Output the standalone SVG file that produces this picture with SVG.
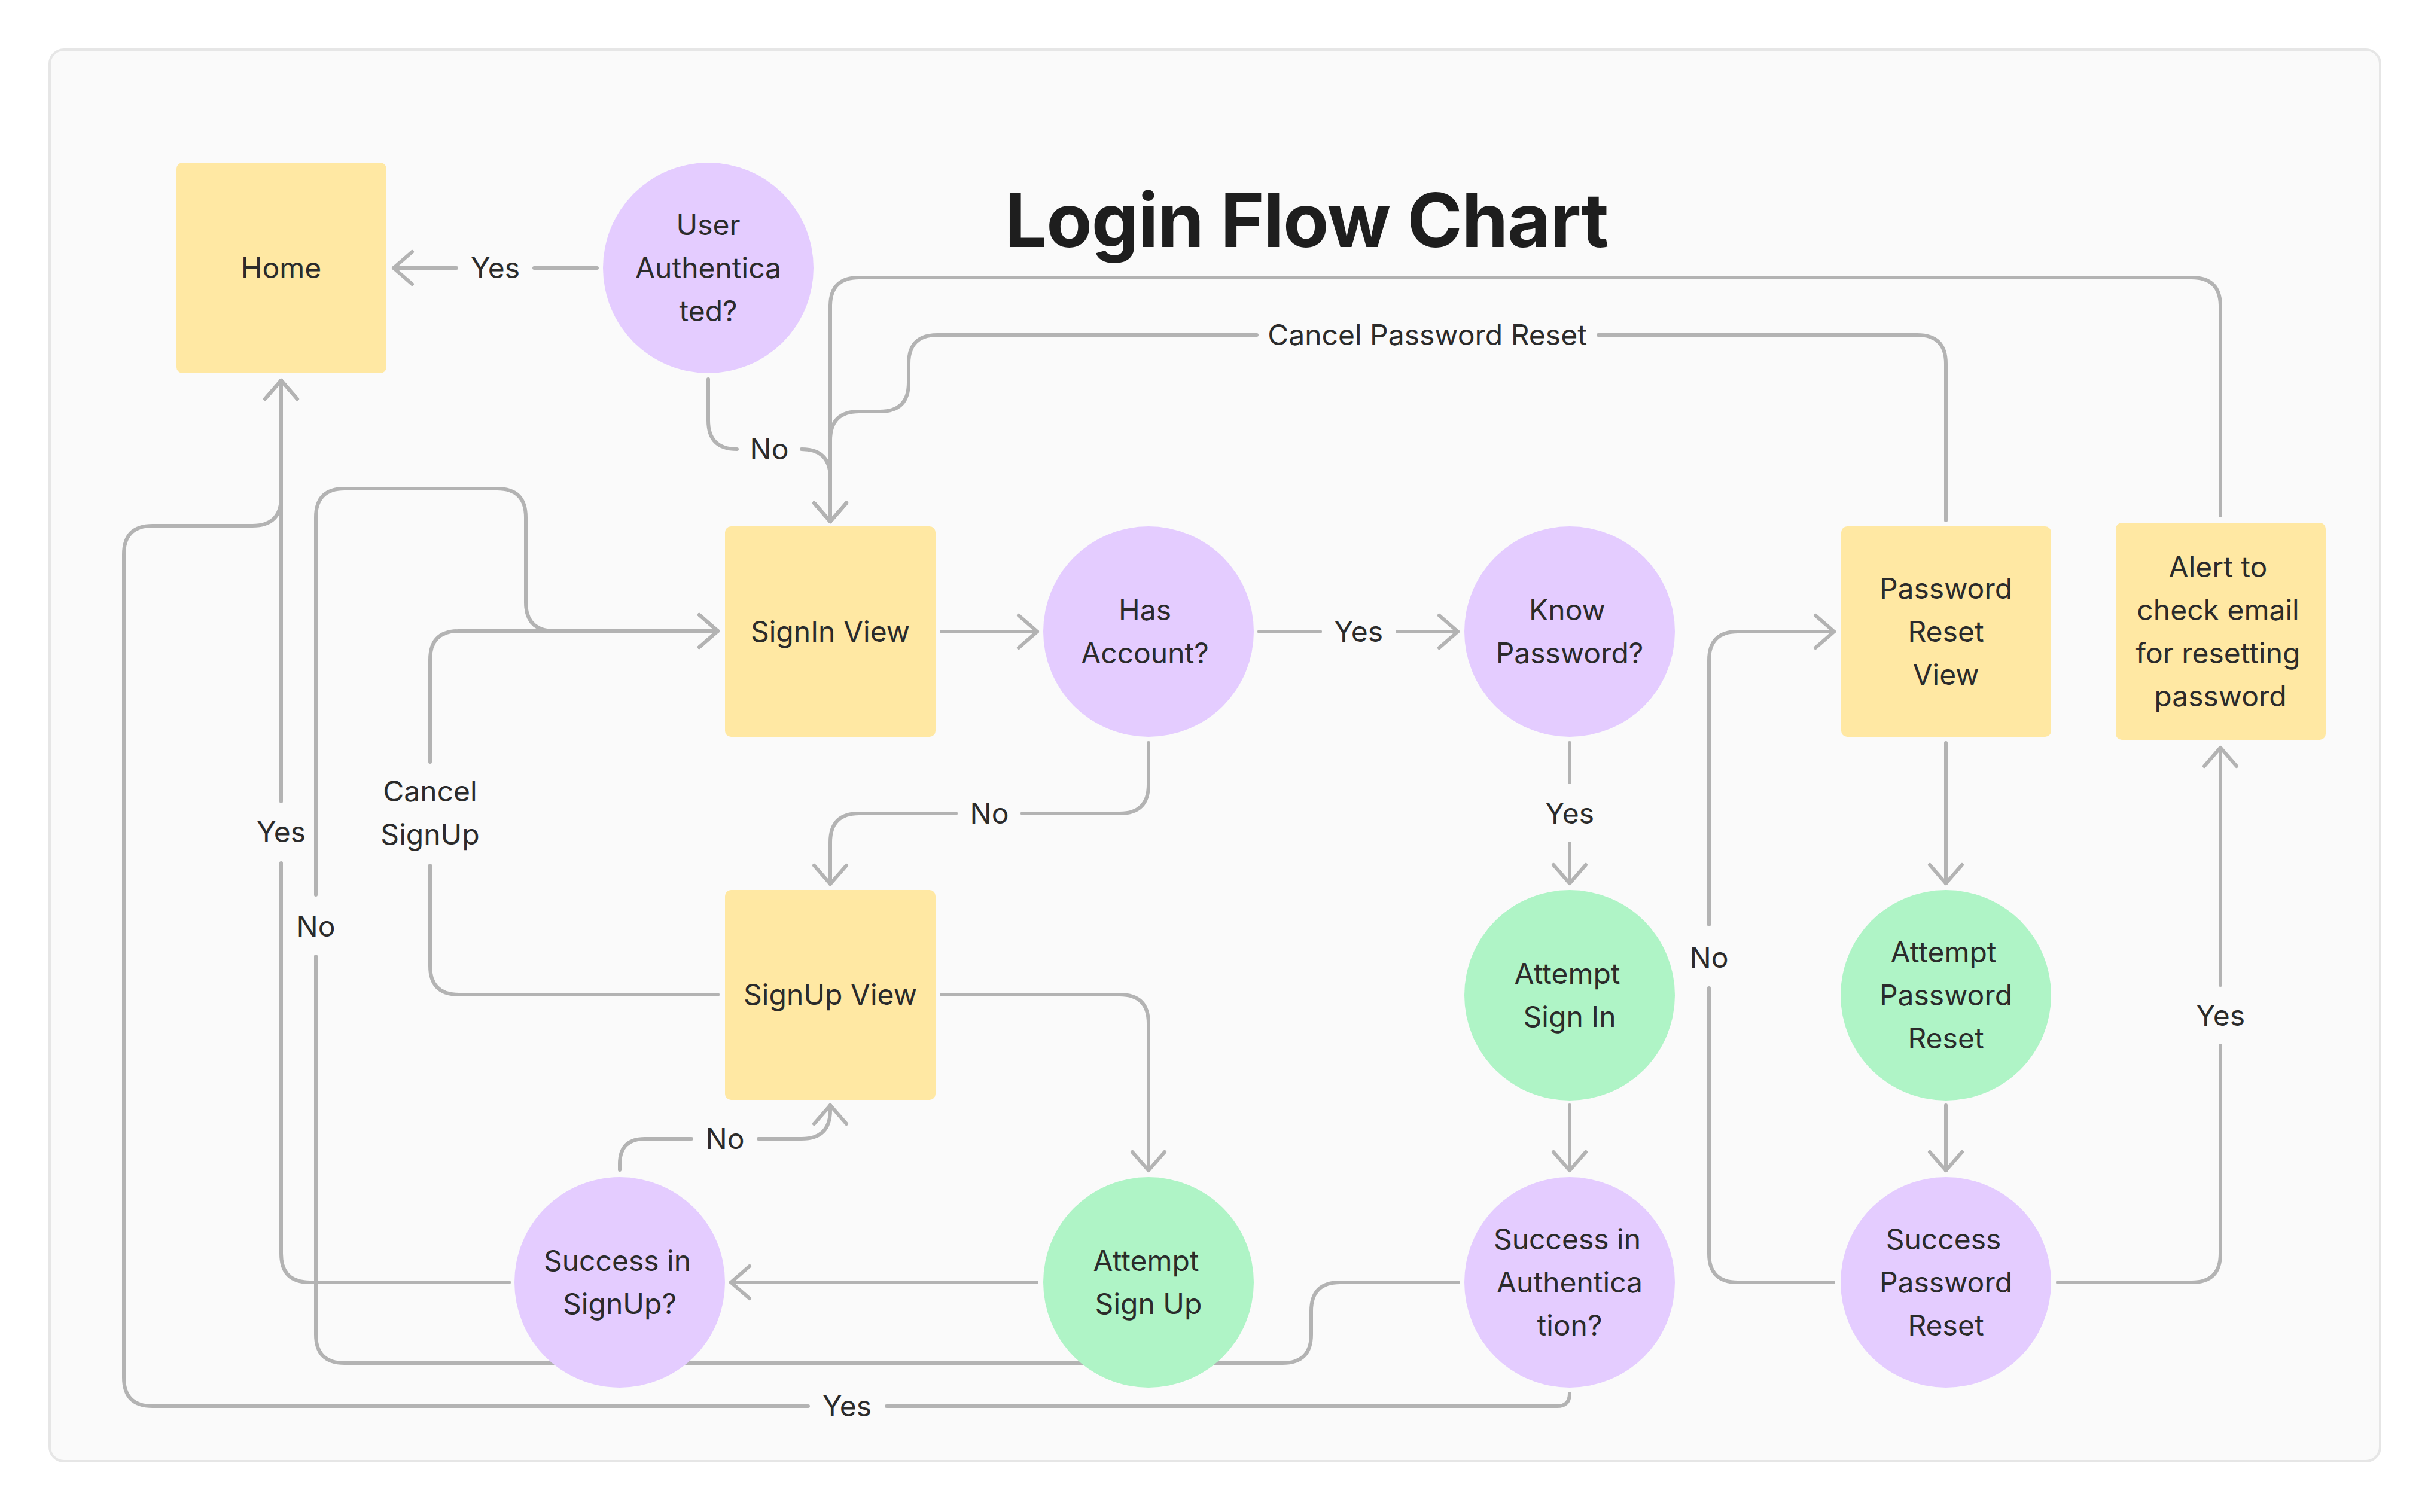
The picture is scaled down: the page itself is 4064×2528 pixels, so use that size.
<svg xmlns="http://www.w3.org/2000/svg" width="4064" height="2528" viewBox="0 0 4064 2528">
<style>
.t{font-family:Inter,"Noto Sans","Liberation Sans",sans-serif;font-size:48px;fill:#2b2b2b;text-anchor:middle}
.title{font-family:Inter,"Noto Sans","Liberation Sans",sans-serif;font-size:125px;letter-spacing:-1.2px;font-weight:700;fill:#1e1e1e;text-anchor:middle}
.c{fill:none;stroke:#b3b3b3;stroke-width:6;stroke-linecap:round;stroke-linejoin:round}
.y{fill:#ffe8a3}.v{fill:#e4ccff}.g{fill:#aff4c6}
</style>
<defs>
<marker id="a" markerUnits="userSpaceOnUse" viewBox="-40 -35 50 70" refX="0" refY="0" markerWidth="50" markerHeight="70" orient="auto" overflow="visible">
<path d="M-31,-27 L0,0 L-31,27" fill="none" stroke="#b3b3b3" stroke-width="6" stroke-linecap="round" stroke-linejoin="round"/>
</marker>
</defs>
<rect x="83" y="83" width="3896" height="2360" rx="24" fill="#fafafa" stroke="#e6e6e6" stroke-width="4"/>
<text class="title" x="2184" y="413">Login Flow Chart</text>
<g id="connectors">
<g id="c-ua-home"><path class="c" d="M998,448 H893"/><path class="c" d="M763,448 H658" marker-end="url(#a)"/><text class="t" x="828" y="465">Yes</text></g>
<g id="c-ua-signin"><path class="c" d="M1184,634 V703 Q1184,751 1232,751"/><path class="c" d="M1340,751 Q1388,751 1388,799 V872" marker-end="url(#a)"/><text class="t" x="1286" y="768">No</text></g>
<g id="c-alert-signin"><path class="c" d="M3712,862 V512 Q3712,464 3664,464 H1436 Q1388,464 1388,512 V872" marker-end="url(#a)"/></g>
<g id="c-prv-signin"><path class="c" d="M3253,870 V608 Q3253,560 3205,560 H2672"/><path class="c" d="M2101,560 H1567 Q1519,560 1519,608 V640 Q1519,688 1471,688 H1436 Q1388,688 1388,736 V872" marker-end="url(#a)"/><text class="t" x="2386" y="577">Cancel Password Reset</text></g>
<g id="c-signin-has"><path class="c" d="M1574,1056 H1734" marker-end="url(#a)"/></g>
<g id="c-has-know"><path class="c" d="M2105,1056 H2207"/><path class="c" d="M2336,1056 H2437" marker-end="url(#a)"/><text class="t" x="2271" y="1073">Yes</text></g>
<g id="c-has-signup"><path class="c" d="M1920,1242 V1312 Q1920,1360 1872,1360 H1709"/><path class="c" d="M1598,1360 H1436 Q1388,1360 1388,1408 V1478" marker-end="url(#a)"/><text class="t" x="1654" y="1377">No</text></g>
<g id="c-know-attempt"><path class="c" d="M2624,1242 V1308"/><path class="c" d="M2624,1410 V1477" marker-end="url(#a)"/><text class="t" x="2624" y="1377">Yes</text></g>
<g id="c-attempt-success"><path class="c" d="M2624,1848 V1957" marker-end="url(#a)"/></g>
<g id="c-auth-home"><path class="c" d="M2624,2330 Q2624,2351 2603,2351 H1482"/><path class="c" d="M1351,2351 H255 Q207,2351 207,2303 V927 Q207,879 255,879 H422 Q470,879 470,831 V636" marker-end="url(#a)"/><text class="t" x="1416" y="2368">Yes</text></g>
<g id="c-auth-signin"><path class="c" d="M2438,2144 H2240 Q2192,2144 2192,2192 V2231 Q2192,2279 2144,2279 H576 Q528,2279 528,2231 V1599"/><path class="c" d="M528,1496 V865 Q528,817 576,817 H831 Q879,817 879,865 V1007 Q879,1055 927,1055 H1200" marker-end="url(#a)"/><text class="t" x="528" y="1566">No</text></g>
<g id="c-signup-signin"><path class="c" d="M1200,1663 H767 Q719,1663 719,1615 V1447"/><path class="c" d="M719,1274 V1103 Q719,1055 767,1055 H1200" marker-end="url(#a)"/><text class="t" x="719" y="1340">Cancel</text><text class="t" x="719" y="1412">SignUp</text></g>
<g id="c-signup-attempt"><path class="c" d="M1574,1663 H1872 Q1920,1663 1920,1711 V1957" marker-end="url(#a)"/></g>
<g id="c-attempt-successsignup"><path class="c" d="M1733,2144 H1222" marker-end="url(#a)"/></g>
<g id="c-successsignup-home"><path class="c" d="M851,2144 H518 Q470,2144 470,2096 V1443"/><path class="c" d="M470,1340 V636" marker-end="url(#a)"/><text class="t" x="470" y="1408">Yes</text></g>
<g id="c-successsignup-signup"><path class="c" d="M1036,1956 V1946 Q1036,1904 1078,1904 H1156"/><path class="c" d="M1268,1904 H1340 Q1388,1904 1388,1856 V1848" marker-end="url(#a)"/><text class="t" x="1212" y="1921">No</text></g>
<g id="c-prv-attemptpr"><path class="c" d="M3253,1242 V1477" marker-end="url(#a)"/></g>
<g id="c-attemptpr-successpr"><path class="c" d="M3253,1848 V1957" marker-end="url(#a)"/></g>
<g id="c-successpr-prv"><path class="c" d="M3065,2144 H2905 Q2857,2144 2857,2096 V1652"/><path class="c" d="M2857,1546 V1104 Q2857,1056 2905,1056 H3066" marker-end="url(#a)"/><text class="t" x="2857" y="1618">No</text></g>
<g id="c-successpr-alert"><path class="c" d="M3440,2144 H3664 Q3712,2144 3712,2096 V1748"/><path class="c" d="M3712,1647 V1250" marker-end="url(#a)"/><text class="t" x="3712" y="1715">Yes</text></g>
</g>
<g id="nodes">
<g id="home"><rect class="y" x="295" y="272" width="351" height="352" rx="10"/><text class="t" x="470" y="465">Home</text></g>
<g id="user-authenticated"><circle class="v" cx="1184" cy="448" r="176"/><text class="t" x="1184" y="393">User</text><text class="t" x="1184" y="465">Authentica</text><text class="t" x="1184" y="537">ted?</text></g>
<g id="signin-view"><rect class="y" x="1212" y="880" width="352" height="352" rx="10"/><text class="t" x="1388" y="1073">SignIn View</text></g>
<g id="has-account"><circle class="v" cx="1920" cy="1056" r="176"/><text class="t" x="1914" y="1037">Has</text><text class="t" x="1914" y="1109">Account?</text></g>
<g id="know-password"><circle class="v" cx="2624" cy="1056" r="176"/><text class="t" x="2620" y="1037">Know</text><text class="t" x="2624" y="1109">Password?</text></g>
<g id="password-reset-view"><rect class="y" x="3078" y="880" width="351" height="352" rx="10"/><text class="t" x="3253" y="1001">Password</text><text class="t" x="3253" y="1073">Reset</text><text class="t" x="3253" y="1145">View</text></g>
<g id="alert"><rect class="y" x="3537" y="874" width="351" height="363" rx="10"/><text class="t" x="3708" y="965">Alert to</text><text class="t" x="3708" y="1037">check email</text><text class="t" x="3708" y="1109">for resetting</text><text class="t" x="3712" y="1181">password</text></g>
<g id="signup-view"><rect class="y" x="1212" y="1488" width="352" height="351" rx="10"/><text class="t" x="1388" y="1680">SignUp View</text></g>
<g id="attempt-sign-in"><circle class="g" cx="2624" cy="1664" r="176"/><text class="t" x="2620" y="1645">Attempt</text><text class="t" x="2624" y="1717">Sign In</text></g>
<g id="attempt-password-reset"><circle class="g" cx="3253" cy="1664" r="176"/><text class="t" x="3249" y="1609">Attempt</text><text class="t" x="3253" y="1681">Password</text><text class="t" x="3253" y="1753">Reset</text></g>
<g id="success-signup"><circle class="v" cx="1036" cy="2144" r="176"/><text class="t" x="1032" y="2125">Success in</text><text class="t" x="1036" y="2197">SignUp?</text></g>
<g id="attempt-sign-up"><circle class="g" cx="1920" cy="2144" r="176"/><text class="t" x="1916" y="2125">Attempt</text><text class="t" x="1920" y="2197">Sign Up</text></g>
<g id="success-auth"><circle class="v" cx="2624" cy="2144" r="176"/><text class="t" x="2620" y="2089">Success in</text><text class="t" x="2624" y="2161">Authentica</text><text class="t" x="2624" y="2233">tion?</text></g>
<g id="success-password-reset"><circle class="v" cx="3253" cy="2144" r="176"/><text class="t" x="3249" y="2089">Success</text><text class="t" x="3253" y="2161">Password</text><text class="t" x="3253" y="2233">Reset</text></g>
</g>
</svg>
